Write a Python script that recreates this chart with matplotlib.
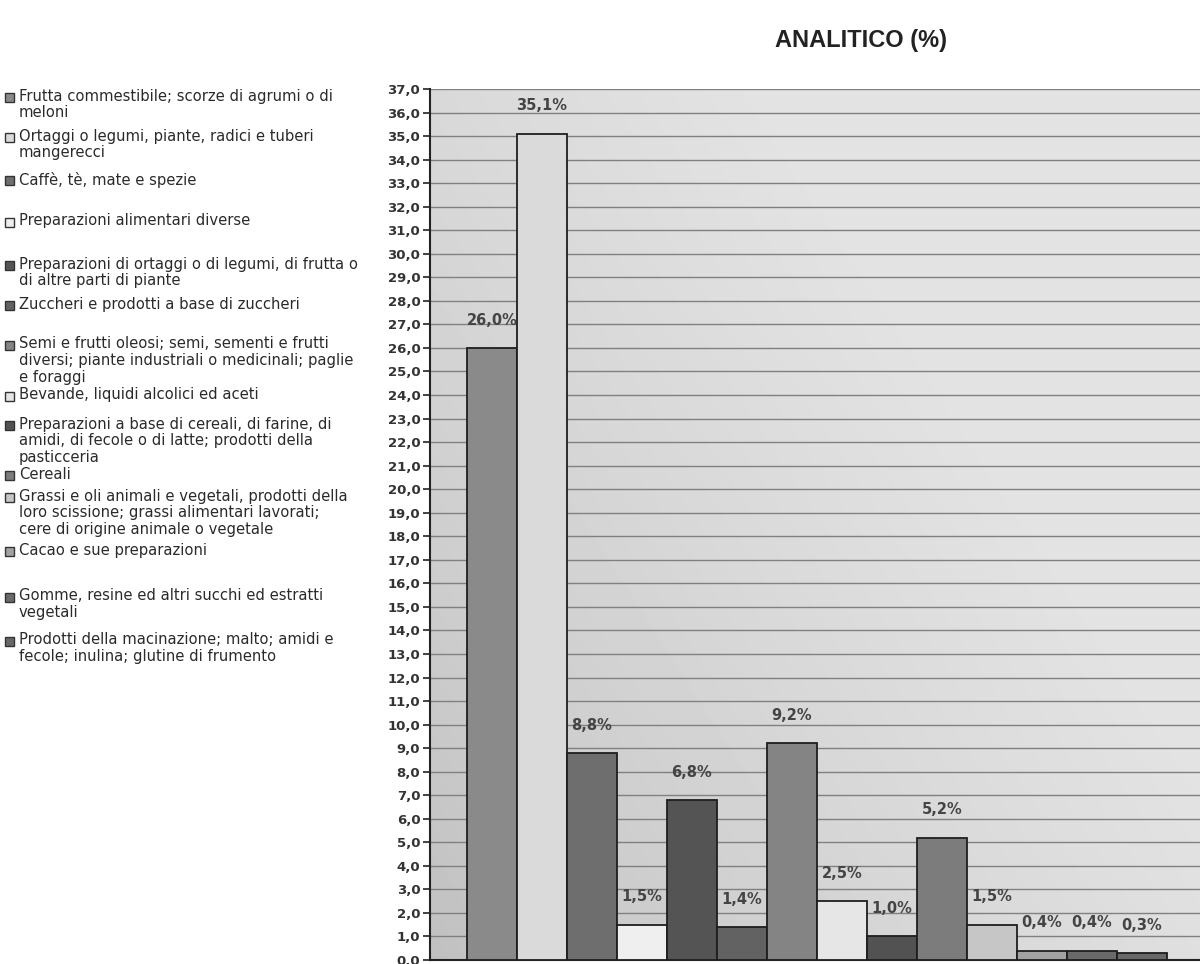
import numpy as np
import matplotlib
matplotlib.use("Agg")
import matplotlib.pyplot as plt
from matplotlib.patches import Rectangle

# Quote percentuali per capitolo merceologico
categorie = [
    "Frutta commestibile; scorze di agrumi o di\nmeloni",
    "Ortaggi o legumi, piante, radici e tuberi\nmangerecci",
    "Caffè, tè, mate e spezie",
    "Preparazioni alimentari diverse",
    "Preparazioni di ortaggi o di legumi, di frutta o\ndi altre parti di piante",
    "Zuccheri e prodotti a base di zuccheri",
    "Semi e frutti oleosi; semi, sementi e frutti\ndiversi; piante industriali o medicinali; paglie\ne foraggi",
    "Bevande, liquidi alcolici ed aceti",
    "Preparazioni a base di cereali, di farine, di\namidi, di fecole o di latte; prodotti della\npasticceria",
    "Cereali",
    "Grassi e oli animali e vegetali, prodotti della\nloro scissione; grassi alimentari lavorati;\ncere di origine animale o vegetale",
    "Cacao e sue preparazioni",
    "Gomme, resine ed altri succhi ed estratti\nvegetali",
    "Prodotti della macinazione; malto; amidi e\nfecole; inulina; glutine di frumento",
]
valori = [26.0, 35.1, 8.8, 1.5, 6.8, 1.4, 9.2, 2.5, 1.0, 5.2, 1.5, 0.4, 0.4, 0.3]
colori = ["#8a8a8a", "#dadada", "#6e6e6e", "#efefef", "#545454", "#626262",
          "#848484", "#e6e6e6", "#525252", "#7c7c7c", "#c6c6c6", "#a2a2a2",
          "#6a6a6a", "#686868"]
titolo = "ANALITICO (%)"

W, H = 1200, 964
fig = plt.figure(figsize=(W / 100, H / 100), dpi=100)
fig.patch.set_facecolor("white")

# Area del grafico
left_px, right_px, top_px, bottom_px = 430, 1200, 89, 960
ax = fig.add_axes([left_px / W, 1 - bottom_px / H,
                   (right_px - left_px) / W, (bottom_px - top_px) / H])
ax.set_xlim(-0.74, 14.66)
ax.set_ylim(0, 37)

# Sfondo sfumato grigio
ny, nx = 200, 200
yy, xx = np.mgrid[0:1:ny * 1j, 0:1:nx * 1j]
shade = 0.70 + 0.19 * np.clip(0.55 * yy + 0.75 * xx + 0.12, 0, 1) ** 0.6
ax.imshow(shade, extent=[0, 1, 0, 1], origin="lower", cmap="gray",
          vmin=0, vmax=1, transform=ax.transAxes, aspect="auto", zorder=0,
          interpolation="bilinear")

# Griglia orizzontale
for v in range(0, 38):
    ax.axhline(v, color="#808080", lw=1.0, zorder=1)

x = np.arange(len(valori))
ax.bar(x, valori, width=1.0, align="edge", color=colori,
       edgecolor="#1e1e1e", linewidth=1.3, zorder=3)

for xi, v in zip(x, valori):
    ax.annotate(f"{v:.1f}%".replace(".", ","), (xi + 0.5, v),
                xytext=(0, 20), textcoords="offset points",
                ha="center", va="center", fontsize=10.5, fontweight="bold",
                color="#444444", zorder=4)

ax.set_yticks(range(0, 38))
ax.set_yticklabels([f"{v},0" for v in range(0, 38)], fontsize=9.5,
                   color="#333333", fontweight="semibold")
ax.tick_params(axis="y", length=5, width=1.2, color="#222222", pad=2)
ax.set_xticks([])
for s in ["top", "right"]:
    ax.spines[s].set_visible(False)
ax.spines["left"].set_color("#222222")
ax.spines["left"].set_linewidth(1.5)
ax.spines["bottom"].set_color("#222222")
ax.spines["bottom"].set_linewidth(1.5)

fig.text(861 / W, 1 - 41 / H, titolo, ha="center", va="center",
         fontsize=17, fontweight="bold", family="Liberation Sans",
         color="#222222")

# Legenda a sinistra
legend_y = [97, 137, 180, 222, 265, 305, 345, 396, 425, 475, 497, 551, 597, 641]
for lab, col, y0 in zip(categorie, colori, legend_y):
    fig.patches.append(Rectangle((5 / W, 1 - (y0 + 4.5) / H), 9 / W, 9 / H,
                                 transform=fig.transFigure, facecolor=col,
                                 edgecolor="#333333", linewidth=1.0))
    fig.text(19 / W, 1 - (y0 - 8.5) / H, lab, ha="left", va="top",
             fontsize=10.6, color="#2a2a2a", linespacing=1.13)

fig.savefig("out.png", dpi=100, facecolor="white")
